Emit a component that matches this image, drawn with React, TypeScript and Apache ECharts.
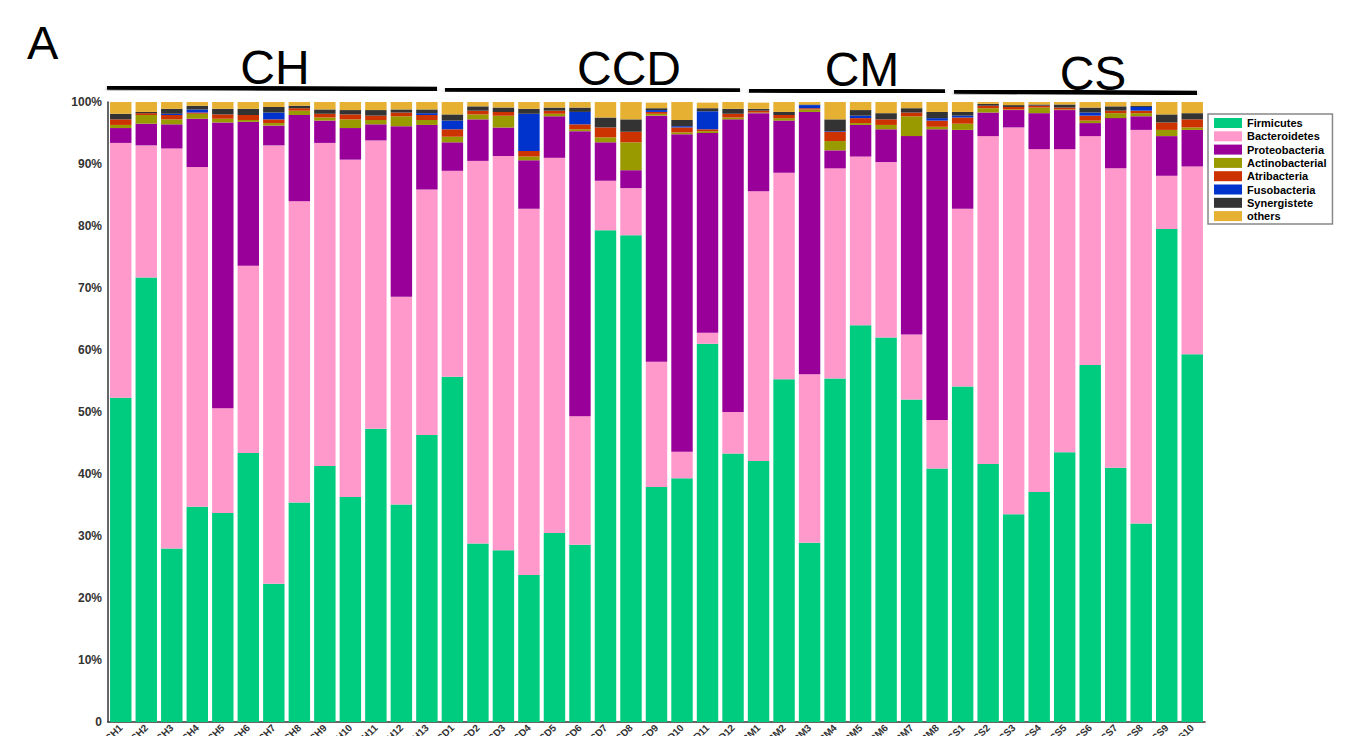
import React, { useEffect, useRef } from "react";
import * as echarts from "echarts";

const categories = [
  "CH1","CH2","CH3","CH4","CH5","CH6","CH7","CH8","CH9","CH10","CH11","CH12","CH13",
  "CCD1","CCD2","CCD3","CCD4","CCD5","CCD6","CCD7","CCD8","CCD9","CCD10","CCD11","CCD12",
  "CM1","CM2","CM3","CM4","CM5","CM6","CM7","CM8",
  "CS1","CS2","CS3","CS4","CS5","CS6","CS7","CS8","CS9","CS10",
];

const firmicutes = [52.3,71.7,28.0,34.7,33.7,43.4,22.3,35.4,41.3,36.3,47.3,35.1,46.3,
  55.7,28.8,27.7,23.7,30.5,28.6,79.3,78.5,37.9,39.3,61.0,43.3,
  42.1,55.3,28.9,55.4,64.0,62.0,52.0,40.9,
  54.1,41.6,33.5,37.1,43.5,57.6,41.0,32.0,79.5,59.3];
const bacteroidetes = [41.1,21.3,64.5,54.8,16.9,30.2,70.7,48.6,52.1,54.4,46.5,33.5,39.6,
  33.2,61.7,63.6,59.1,60.5,20.7,8.0,7.6,20.2,4.3,1.8,6.7,
  43.5,33.3,27.2,33.9,27.2,28.3,10.5,7.8,
  28.7,52.9,62.4,55.3,48.9,36.9,48.3,63.5,8.6,30.3];
const proteobacteria = [2.4,3.5,3.9,7.8,46.1,23.2,3.2,13.9,3.6,5.1,2.6,27.5,10.4,
  4.6,6.7,4.6,7.8,6.7,46.0,6.2,2.9,39.7,51.2,32.2,47.2,
  12.6,8.4,42.3,2.9,5.1,5.3,32.0,46.9,
  12.7,3.8,2.8,5.8,6.3,2.1,8.1,2.2,6.4,5.9];
const actinobacterial = [0.5,1.4,0.8,0.8,0.6,0.3,0.4,0.7,0.5,1.4,0.7,1.6,0.8,
  0.9,0.8,1.9,0.6,0.4,0.3,0.8,4.5,0.3,0.3,0.3,0.3,
  0.1,0.4,0.4,1.5,0.3,0.7,3.2,0.4,
  1.0,0.7,0.1,0.9,0.1,0.4,0.8,0.5,1.0,0.4];
const atribacteria = [0.9,0.3,0.7,0.2,0.7,0.8,0.6,0.4,0.6,0.8,0.7,0.6,0.8,
  1.2,0.6,0.6,0.9,0.5,0.8,1.6,1.7,0.3,0.8,0.3,0.6,
  0.3,0.5,0.2,1.5,0.8,0.9,0.6,1.0,
  1.0,0.4,0.4,0.3,0.3,0.8,0.4,0.4,1.2,1.3];
const fusobacteria = [0,0,0.2,0.5,0,0,1.1,0,0,0,0,0,0.3,
  1.4,0,0,6.0,0,2.0,0,0,0.3,0.2,2.9,0,
  0,0,0.5,0.1,0.4,0,0,0.4,
  0.3,0,0,0,0,0.5,0,0.6,0,0];
const synergistete = [0.9,0.2,0.8,0.6,0.9,1.0,0.9,0.4,0.7,0.7,0.9,0.5,0.6,
  1.0,0.7,0.7,0.8,0.5,0.7,1.6,2.0,0.3,1.0,0.5,0.8,
  0.3,0.5,0.1,1.9,0.9,1.0,0.7,1.0,
  0.6,0.3,0.3,0.2,0.5,0.8,0.7,0.2,1.3,1.0];
const others = [1.9,1.7,1.1,0.6,1.1,1.1,0.8,0.6,1.2,1.3,1.3,1.2,1.2,
  2.0,0.7,0.9,1.1,0.9,0.9,2.5,2.8,0.9,2.9,0.9,1.1,
  1.0,1.6,0.4,2.8,1.3,1.8,1.0,1.6,
  1.6,0.3,0.5,0.4,0.4,0.9,0.7,0.6,2.0,1.8];

const seriesNames = ["Firmicutes","Bacteroidetes","Proteobacteria","Actinobacterial","Atribacteria","Fusobacteria","Synergistete","others"];
const seriesData = [firmicutes,bacteroidetes,proteobacteria,actinobacterial,atribacteria,fusobacteria,synergistete,others];
const seriesColors = ["#00CC80","#FF99CC","#990099","#999900","#CC3300","#0033CC","#333333","#E6B033"];

const groupLabels = ["CH","CCD","CM","CS"];
const yTicks = [0,10,20,30,40,50,60,70,80,90,100];

const FONT = "Liberation Sans, Arial, sans-serif";

export default function App() {
  const ref = useRef<HTMLDivElement>(null);
  useEffect(() => {
    if (!ref.current) return;
    const chart = echarts.init(ref.current, null, { renderer: "svg" });
    const groupPos = [
      { cx: 275, cy: 67.5, x1: 107, y1: 87.5, x2: 437, y2: 89 },
      { cx: 629, cy: 68.5, x1: 445, y1: 89.5, x2: 740, y2: 90.5 },
      { cx: 862, cy: 69.5, x1: 749, y1: 90.5, x2: 945, y2: 91.5 },
      { cx: 1093, cy: 73.5, x1: 954, y1: 91.5, x2: 1197, y2: 93 },
    ];
    const graphics: any[] = [
      {
        type: "text", left: 27, top: 19,
        style: { text: "A", fontSize: 47, fontFamily: FONT, fill: "#000" },
      },
    ];
    groupLabels.forEach((g, i) => {
      const p = groupPos[i];
      graphics.push({
        type: "line",
        shape: { x1: p.x1, y1: p.y1, x2: p.x2, y2: p.y2 },
        style: { stroke: "#000", lineWidth: 4.5, shadowBlur: 4, shadowColor: "rgba(0,0,0,0.35)", shadowOffsetY: 2 },
      });
      graphics.push({
        type: "text", x: p.cx, y: p.cy,
        style: { text: g, fontSize: 48, fontFamily: FONT, fill: "#000", align: "center", verticalAlign: "middle" },
      });
    });
    chart.setOption({
      animation: false,
      textStyle: { fontFamily: FONT },
      grid: { left: 108, right: 141, top: 102, bottom: 14, containLabel: false, outerBoundsMode: "none" },
      legend: {
        orient: "vertical", left: 1208, top: 114,
        padding: [3, 6, 2, 6], borderColor: "#888", borderWidth: 1.5,
        itemWidth: 28, itemHeight: 10, itemGap: 1.3, icon: "rect",
        textStyle: { fontSize: 11, fontWeight: "bold", color: "#000", lineHeight: 12, fontFamily: FONT },
        data: seriesNames,
      },
      xAxis: {
        type: "category", data: categories,
        axisLine: { lineStyle: { color: "#333", width: 1.5 } },
        axisTick: { show: false },
        axisLabel: { interval: 0, rotate: 45, fontSize: 10, fontWeight: "bold", color: "#333", margin: 4 },
      },
      yAxis: {
        type: "value", min: 0, max: 100, interval: 10,
        axisLine: { show: true, lineStyle: { color: "#333", width: 1.5 } },
        axisTick: { show: false },
        splitLine: { show: false },
        axisLabel: {
          fontSize: 12, fontWeight: "bold", color: "#333", margin: 6,
          formatter: (v: number) => (yTicks.includes(v) ? (v === 0 ? "0" : v + "%") : ""),
        },
      },
      graphic: graphics,
      series: seriesNames.map((name, i) => ({
        name, type: "bar", stack: "total", data: seriesData[i],
        barCategoryGap: "16%",
        itemStyle: { color: seriesColors[i] },
      })),
    });
    return () => chart.dispose();
  }, []);
  return <div ref={ref} style={{ position: "absolute", left: 0, top: 0, width: 1346, height: 736, background: "#fff" }} />;
}
